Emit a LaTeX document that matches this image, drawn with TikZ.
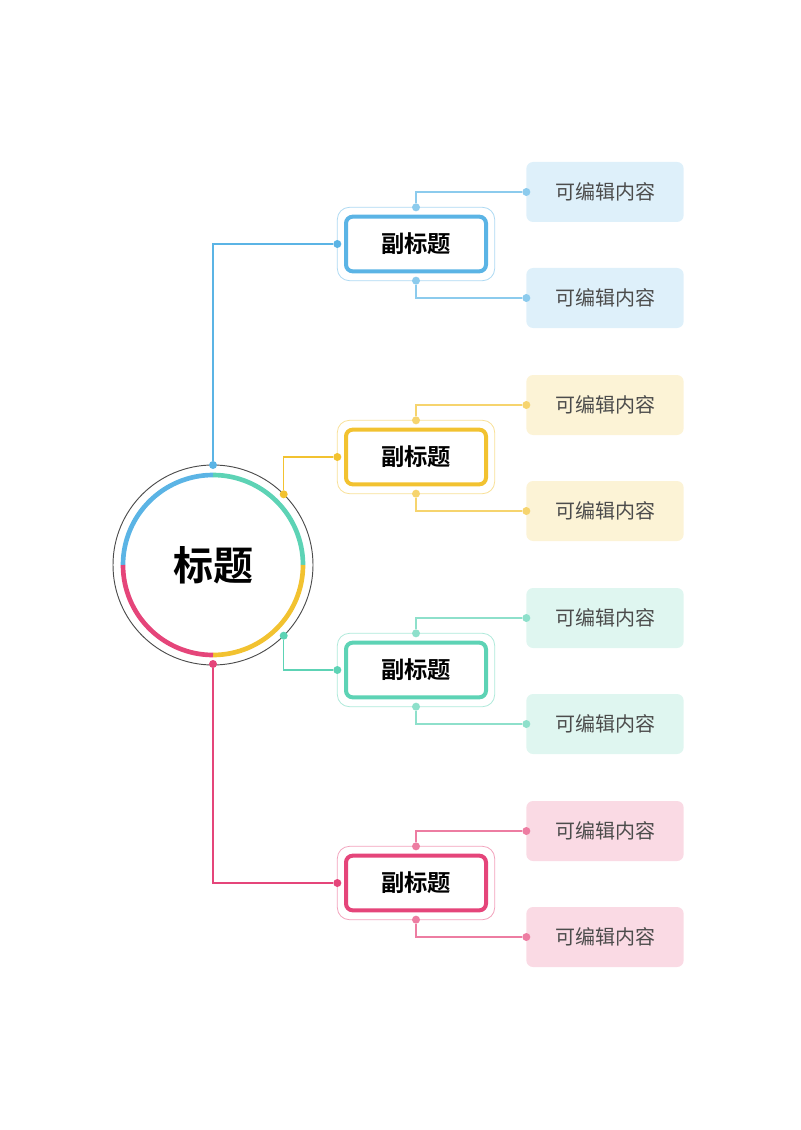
\documentclass[tikz,border=0pt]{standalone}
\usepackage{fontspec}
\newfontfamily\cjk{Noto Sans CJK SC}
\newfontfamily\cjkb{Noto Sans CJK SC Bold}
\definecolor{cblue}{HTML}{5BB4E5}
\definecolor{cyellow}{HTML}{F2C230}
\definecolor{cgreen}{HTML}{5DD3B5}
\definecolor{cpink}{HTML}{E5457A}
\begin{document}
\begin{tikzpicture}[x=0.75pt,y=-0.75pt]
\tikzset{ inner sep=0pt, outer sep=0pt,
  dot/.style={circle, fill=#1, minimum size=6pt},
  subbox/.style={draw=#1, line width=3pt, rounded corners=5pt, fill=white,
    minimum width=105pt, minimum height=41pt, font=\cjkb\fontsize{17.5}{20}\selectfont},
  halo/.style={draw=#1!50, line width=0.6pt, rounded corners=9pt,
    minimum width=118pt, minimum height=55pt},
  leaf/.style={fill=#1!20, rounded corners=5pt, minimum width=118pt,
    minimum height=45pt, font=\cjk\fontsize{15}{17}\selectfont, text=black!70},
  link/.style={draw=#1, line width=1pt},
}
\useasboundingbox (0,0) rectangle (800,1130);

% centre
\draw [black!70, line width=0.7pt] (213,565) circle (100);
\draw [cblue,   line width=3.5pt] (213,565) ++(180:90) arc (180:270:90);
\draw [cgreen,  line width=3.5pt] (213,565) ++(270:90) arc (270:360:90);
\draw [cyellow, line width=3.5pt] (213,565) ++(0:90)   arc (0:90:90);
\draw [cpink,   line width=3.5pt] (213,565) ++(90:90)  arc (90:180:90);
\node [font=\cjkb\fontsize{30}{34}\selectfont] (T) at (213,565) {标题};

\node [dot=cblue]   (Pb) at (213,465) {};
\node [dot=cyellow] (Py) at (283.7,494.3) {};
\node [dot=cgreen]  (Pg) at (283.7,635.7) {};
\node [dot=cpink]   (Pp) at (213,664) {};

\foreach \c/\y/\p in {cblue/244/Pb, cyellow/457/Py, cgreen/670/Pg, cpink/883/Pp}{
  \node [halo=\c] (H\c) at (416,\y) {};
  \node [subbox=\c] (S\c) at (416,\y) {副标题};
  \node [dot=\c] (L\c) at (H\c.west) {};
  \node [dot=\c!70] (U\c) at (H\c.north) {};
  \node [dot=\c!70] (D\c) at (H\c.south) {};
  \node [leaf=\c] (A\c) at (605,\y-52) {可编辑内容};
  \node [leaf=\c] (B\c) at (605,\y+54) {可编辑内容};
  \node [dot=\c!70] (a\c) at (A\c.west) {};
  \node [dot=\c!70] (b\c) at (B\c.west) {};
  \draw [link=\c] (\p) |- (L\c);
  \draw [link=\c!70] (U\c) |- (a\c);
  \draw [link=\c!70] (D\c) |- (b\c);
}
\end{tikzpicture}
\end{document}
